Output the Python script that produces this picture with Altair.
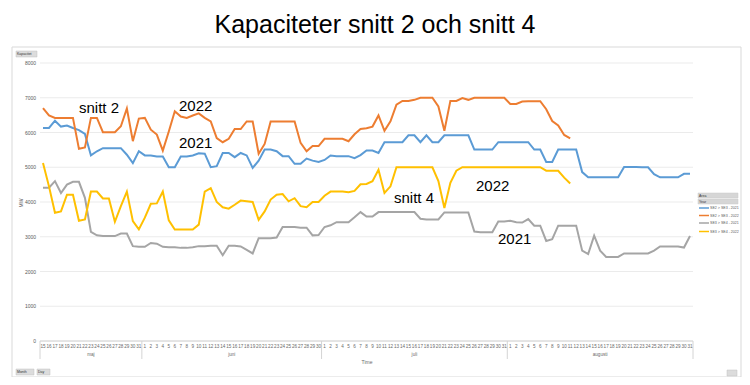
import altair as alt
import pandas as pd

# ---------------- data ----------------
month_names = ["maj", "juni", "juli", "augusti"]
month_first = [15, 1, 1, 1]
month_last = [31, 30, 31, 31]

series_names = ["SE2 > SE3 - 2021", "SE2 > SE3 - 2022", "SE3 > SE4 - 2021", "SE3 > SE4 - 2022"]
series_colors = ["#5B9BD5", "#ED7D31", "#A5A5A5", "#FFC000"]

# snitt 2, 2021 (blue) 15 maj - 31 aug
snitt2_2021 = [6130, 6130, 6340, 6170, 6200, 6130, 6070, 5960, 5340, 5460,
               5550, 5550, 5550, 5550, 5360, 5120, 5460, 5340, 5340, 5310,
               5310, 5000, 5000, 5310, 5310, 5340, 5400, 5390, 5000, 5030,
               5410, 5410, 5290, 5410, 5340, 4980, 5190, 5510, 5510, 5460,
               5320, 5320, 5100, 5100, 5250, 5190, 5150, 5210, 5340, 5320,
               5320, 5320, 5260, 5350, 5480, 5480, 5410, 5720, 5720, 5720,
               5720, 5920, 5920, 5720, 5920, 5720, 5720, 5920, 5920, 5920,
               5920, 5920, 5510, 5510, 5510, 5510, 5720, 5720, 5720, 5720,
               5720, 5720, 5510, 5510, 5150, 5150, 5510, 5510, 5510, 5510,
               4860, 4710, 4710, 4710, 4710, 4710, 4710, 5010, 5010, 5010,
               5000, 5000, 4800, 4710, 4710, 4710, 4710, 4810, 4810]

# snitt 2, 2022 (orange) 15 maj - 11 aug
snitt2_2022 = [6700, 6490, 6420, 6420, 6420, 6420, 5530, 5570, 6420, 6420,
               6010, 6010, 6010, 6180, 6690, 5750, 6400, 6420, 6080, 5940,
               5480, 6030, 6610, 6460, 6420, 6490, 6550, 6420, 6320, 5840,
               5720, 5820, 6100, 6100, 6320, 6320, 5390, 5670, 6320, 6320,
               6320, 6320, 6320, 5700, 5460, 5610, 5610, 5820, 5820, 5820,
               5820, 5750, 5950, 6100, 6120, 6170, 6490, 6050, 6320, 6800,
               6910, 6910, 6940, 7000, 7000, 7000, 6750, 6050, 6910, 6910,
               6990, 6940, 7000, 7000, 7000, 7000, 7000, 7000, 6820, 6820,
               6890, 6900, 6900, 6900, 6670, 6330, 6200, 5930, 5830]

# snitt 4, 2021 (gray) 15 maj - 31 aug
snitt4_2021 = [4410, 4410, 4600, 4260, 4500, 4580, 4580, 4120, 3140, 3040,
               3020, 3020, 3020, 3090, 3090, 2730, 2710, 2710, 2820, 2800,
               2710, 2700, 2700, 2680, 2680, 2700, 2730, 2730, 2740, 2740,
               2470, 2740, 2740, 2720, 2620, 2520, 2960, 2960, 2960, 2980,
               3280, 3280, 3280, 3260, 3260, 3040, 3050, 3280, 3330, 3420,
               3420, 3420, 3560, 3710, 3580, 3580, 3710, 3710, 3710, 3710,
               3710, 3710, 3710, 3520, 3500, 3500, 3500, 3700, 3700, 3700,
               3700, 3700, 3150, 3130, 3130, 3130, 3440, 3440, 3460, 3420,
               3410, 3510, 3320, 3320, 2880, 2930, 3320, 3320, 3320, 3320,
               2600, 2500, 3030, 2600, 2420, 2420, 2420, 2520, 2520, 2520,
               2520, 2520, 2600, 2720, 2720, 2720, 2720, 2690, 3020]

# snitt 4, 2022 (yellow) 15 maj - 11 aug
snitt4_2022 = [5120, 4450, 3690, 3730, 4210, 4210, 3460, 3500, 4300, 4300,
               4100, 4100, 3430, 3880, 4300, 3450, 3210, 3550, 3950, 3960,
               4300, 3470, 3210, 3210, 3210, 3210, 3350, 4300, 4400, 4000,
               3850, 3810, 3920, 4040, 4020, 4000, 3490, 3730, 4070, 4210,
               4230, 4020, 4110, 3880, 3850, 4000, 4000, 4180, 4300, 4300,
               4300, 4280, 4320, 4510, 4520, 4600, 4930, 4260, 4450, 5000,
               5000, 5000, 5000, 5000, 5000, 5000, 4600, 3830, 4550, 4900,
               5000, 5000, 5000, 5000, 5000, 5000, 5000, 5000, 5000, 5000,
               5000, 5000, 5000, 5000, 4900, 4900, 4900, 4700, 4530]

y_ticks = [0, 1000, 2000, 3000, 4000, 5000, 6000, 7000, 8000]

title_text = "Kapaciteter snitt 2 och snitt 4"
annot_texts = ["snitt 2", "2022", "2021", "snitt 4", "2022", "2021"]

# ---------------- tables ----------------
days_rows = []
idx = 0
month_bounds = [-0.5]
month_centers = []
for m, f, l in zip(month_names, month_first, month_last):
    start = idx
    for d in range(f, l + 1):
        days_rows.append({"i": idx, "day": str(d), "month": m})
        idx += 1
    month_bounds.append(idx - 0.5)
    month_centers.append({"i": (start + idx - 1) / 2, "month": m})
days_df = pd.DataFrame(days_rows)
months_df = pd.DataFrame(month_centers)
bounds_df = pd.DataFrame({"i": month_bounds})
n_days = idx

rows = []
for name, vals in zip(series_names, [snitt2_2021, snitt2_2022, snitt4_2021, snitt4_2022]):
    for i, v in enumerate(vals):
        rows.append({"i": i, "v": v, "serie": name})
lines_df = pd.DataFrame(rows)

O = 8  # page margin offset
def px(v):
    return v - O

xs = alt.Scale(domain=[-0.5, n_days - 0.5], range=[px(40), px(693)], nice=False, zero=False)
ys = alt.Scale(domain=[0, 8000], range=[px(341), px(63)], nice=False, zero=False)
FONT = "Liberation Sans"

# frame
frame = alt.Chart(pd.DataFrame({"a": [0]})).mark_rect(fill=None, stroke="#d9d9d9", strokeWidth=1).encode(
    x=alt.value(px(12)), x2=alt.value(px(741)), y=alt.value(px(47)), y2=alt.value(px(377)))

# gridlines
grid_df = pd.DataFrame({"v": y_ticks})
grid = alt.Chart(grid_df).mark_rule(color="#ebebeb", strokeWidth=1).encode(
    y=alt.Y("v:Q", scale=ys, axis=None), x=alt.value(px(40)), x2=alt.value(px(693)))
base_rule = alt.Chart(pd.DataFrame({"v": [0]})).mark_rule(color="#d4d4d4", strokeWidth=1).encode(
    y=alt.Y("v:Q", scale=ys, axis=None), x=alt.value(px(40)), x2=alt.value(px(693)))
ylabels = alt.Chart(grid_df).mark_text(align="right", baseline="middle", fontSize=5, font=FONT, color="#595959").encode(
    y=alt.Y("v:Q", scale=ys, axis=None), x=alt.value(px(36)), text=alt.Text("v:Q", format="d"))
ytitle = alt.Chart(pd.DataFrame({"t": ["MW"]})).mark_text(angle=270, fontSize=5, font=FONT, color="#595959").encode(
    x=alt.value(px(21)), y=alt.value(px(203)), text="t:N")

# x axis
day_labels = alt.Chart(days_df).mark_text(baseline="middle", fontSize=4.6, font=FONT, color="#6a6a6a").encode(
    x=alt.X("i:Q", scale=xs, axis=None), y=alt.value(px(347)), text="day:N")
month_labels = alt.Chart(months_df).mark_text(baseline="middle", fontSize=4.6, font=FONT, color="#6a6a6a").encode(
    x=alt.X("i:Q", scale=xs, axis=None), y=alt.value(px(355)), text="month:N")
seps = alt.Chart(bounds_df).mark_rule(color="#d4d4d4", strokeWidth=1).encode(
    x=alt.X("i:Q", scale=xs, axis=None), y=alt.value(px(341)), y2=alt.value(px(359)))
xtitle = alt.Chart(pd.DataFrame({"t": ["Time"]})).mark_text(fontSize=5, font=FONT, color="#6a6a6a").encode(
    x=alt.value(px(367)), y=alt.value(px(362)), text="t:N")

# series
lines = alt.Chart(lines_df).mark_line(strokeWidth=2).encode(
    x=alt.X("i:Q", scale=xs, axis=None),
    y=alt.Y("v:Q", scale=ys, axis=None),
    color=alt.Color("serie:N", scale=alt.Scale(domain=series_names, range=series_colors), legend=None),
    detail="serie:N")

# title
title = alt.Chart(pd.DataFrame({"t": [title_text]})).mark_text(fontSize=25, font=FONT, color="#000000", baseline="alphabetic").encode(
    x=alt.value(px(375)), y=alt.value(px(33)), text="t:N")

# annotations
annot_df = pd.DataFrame({"t": annot_texts,
                         "x": [px(79), px(179), px(179), px(394), px(476), px(498)],
                         "y": [px(113), px(111), px(148), px(203), px(191), px(244)]})
annots = alt.Chart(annot_df).mark_text(fontSize=15, font=FONT, color="#000000", align="left", baseline="alphabetic").encode(
    x=alt.X("x:Q", scale=None), y=alt.Y("y:Q", scale=None), text="t:N")

# custom legend
hdr_df = pd.DataFrame({"t": ["Area", "Year"], "y": [px(193), px(199)], "y2": [px(198), px(204)]})
hdr = alt.Chart(hdr_df).mark_rect(fill="#d6d6d6", stroke="#c8c8c8", strokeWidth=0.5).encode(
    x=alt.value(px(698)), x2=alt.value(px(738)), y=alt.Y("y:Q", scale=None), y2="y2:Q")
hdr_txt = alt.Chart(hdr_df).mark_text(fontSize=3.5, font=FONT, color="#333333", align="left", baseline="middle").encode(
    x=alt.value(px(699)), y=alt.Y("ym:Q", scale=None), text="t:N").transform_calculate(ym="(datum.y + datum.y2) / 2")
leg_df = pd.DataFrame({"serie": series_names, "y": [px(208), px(215.5), px(223), px(231.5)]})
leg_sw = alt.Chart(leg_df).mark_rule(strokeWidth=1.5).encode(
    x=alt.value(px(699)), x2=alt.value(px(709)), y=alt.Y("y:Q", scale=None),
    color=alt.Color("serie:N", scale=alt.Scale(domain=series_names, range=series_colors), legend=None))
leg_txt = alt.Chart(leg_df).mark_text(fontSize=3.6, font=FONT, color="#595959", align="left", baseline="middle").encode(
    x=alt.value(px(710)), y=alt.Y("y:Q", scale=None), text="serie:N")

# buttons
btn_df = pd.DataFrame({"t": ["Kapacitet", "Month", "Day", ""],
                       "x": [px(16), px(16), px(37), px(727)], "x2": [px(37), px(34), px(50), px(737)],
                       "y": [px(51), px(369), px(369), px(370)], "y2": [px(57), px(375), px(375), px(376)]})
btns = alt.Chart(btn_df).mark_rect(fill="#dcdcdc", stroke="#c0c0c0", strokeWidth=0.5).encode(
    x=alt.X("x:Q", scale=None), x2="x2:Q", y=alt.Y("y:Q", scale=None), y2="y2:Q")
btn_txt = alt.Chart(btn_df).mark_text(fontSize=3.5, font=FONT, color="#333333", align="left", baseline="middle").encode(
    x=alt.X("xt:Q", scale=None), y=alt.Y("ym:Q", scale=None), text="t:N").transform_calculate(
    xt="datum.x + 1", ym="(datum.y + datum.y2) / 2")

chart = alt.layer(frame, grid, base_rule, seps, ylabels, ytitle, day_labels, month_labels, xtitle,
                  lines, title, annots, hdr, hdr_txt, leg_sw, leg_txt, btns, btn_txt).properties(
    width=734, height=369, padding=0, autosize=alt.AutoSizeParams(type="none")
).configure_view(stroke=None)

chart.save("out.html", embed_options={"renderer": "svg", "actions": False})
